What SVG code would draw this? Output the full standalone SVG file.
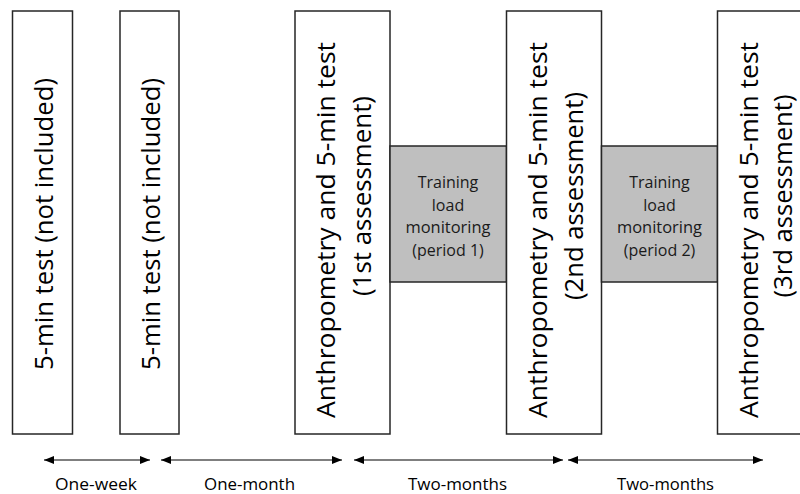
<svg xmlns="http://www.w3.org/2000/svg" width="800" height="494" viewBox="0 0 800 494">
<defs>
<style>
.box{fill:#ffffff;stroke:#262626;stroke-width:1.5}
.grey{fill:#bfbfbf;stroke:#262626;stroke-width:1.5}
.vt{font-family:"Open Sans","Noto Sans","Liberation Sans",sans-serif;font-size:26px;fill:#000;text-anchor:middle}
.gt{font-family:"Open Sans","Noto Sans","Liberation Sans",sans-serif;font-size:16px;fill:#1a1a1a;text-anchor:middle}
.lt{font-family:"Open Sans","Noto Sans","Liberation Sans",sans-serif;font-size:17px;fill:#000;text-anchor:middle}
.arr{stroke:#000;stroke-width:1.2;fill:none;marker-start:url(#ah);marker-end:url(#ah)}
</style>
<marker id="ah" viewBox="0 0 10 8" refX="10" refY="4" markerWidth="10" markerHeight="8" markerUnits="userSpaceOnUse" orient="auto-start-reverse">
<path d="M0,0 L10,4 L0,8 Z" fill="#000"/>
</marker>
</defs>
<rect width="800" height="494" fill="#ffffff"/>

<g id="box1">
<rect class="box" x="12.5" y="11" width="60" height="423"/>
<text class="vt" transform="translate(53,224) rotate(-90)" textLength="292" lengthAdjust="spacingAndGlyphs">5-min test (not included)</text>
</g>
<g id="box2">
<rect class="box" x="120" y="11" width="59" height="423"/>
<text class="vt" transform="translate(160,224) rotate(-90)" textLength="292" lengthAdjust="spacingAndGlyphs">5-min test (not included)</text>
</g>
<g id="box3">
<rect class="box" x="295" y="11" width="95" height="423"/>
<text class="vt" transform="translate(335,230) rotate(-90)" textLength="376" lengthAdjust="spacingAndGlyphs">Anthropometry and 5-min test</text>
<text class="vt" transform="translate(371,196) rotate(-90)" textLength="200" lengthAdjust="spacingAndGlyphs">(1st assessment)</text>
</g>
<g id="train1">
<rect class="grey" x="390" y="146" width="116.5" height="136"/>
<text class="gt" x="448" y="188">Training</text>
<text class="gt" x="448" y="210.5">load</text>
<text class="gt" x="448" y="233" textLength="85" lengthAdjust="spacingAndGlyphs">monitoring</text>
<text class="gt" x="448" y="255.5">(period 1)</text>
</g>
<g id="box4">
<rect class="box" x="506.5" y="11" width="95" height="423"/>
<text class="vt" transform="translate(547,230) rotate(-90)" textLength="376" lengthAdjust="spacingAndGlyphs">Anthropometry and 5-min test</text>
<text class="vt" transform="translate(583,196) rotate(-90)" textLength="208" lengthAdjust="spacingAndGlyphs">(2nd assessment)</text>
</g>
<g id="train2">
<rect class="grey" x="601.5" y="146" width="116" height="136"/>
<text class="gt" x="659.5" y="188">Training</text>
<text class="gt" x="659.5" y="210.5">load</text>
<text class="gt" x="659.5" y="233" textLength="85" lengthAdjust="spacingAndGlyphs">monitoring</text>
<text class="gt" x="659.5" y="255.5">(period 2)</text>
</g>
<g id="box5">
<rect class="box" x="717.5" y="11" width="95" height="423"/>
<text class="vt" transform="translate(758,230) rotate(-90)" textLength="376" lengthAdjust="spacingAndGlyphs">Anthropometry and 5-min test</text>
<text class="vt" transform="translate(792,196) rotate(-90)" textLength="203" lengthAdjust="spacingAndGlyphs">(3rd assessment)</text>
</g>

<g id="connectors">
<line class="arr" x1="44" y1="460" x2="150" y2="460"/>
<line class="arr" x1="161" y1="460" x2="342" y2="460"/>
<line class="arr" x1="354" y1="460" x2="563" y2="460"/>
<line class="arr" x1="568" y1="460" x2="763" y2="460"/>
</g>

<g id="labels">
<text class="lt" x="96" y="490" textLength="82" lengthAdjust="spacingAndGlyphs">One-week</text>
<text class="lt" x="249.5" y="490" textLength="91" lengthAdjust="spacingAndGlyphs">One-month</text>
<text class="lt" x="457.5" y="490" textLength="99" lengthAdjust="spacingAndGlyphs">Two-months</text>
<text class="lt" x="665.5" y="490" textLength="97" lengthAdjust="spacingAndGlyphs">Two-months</text>
</g>
</svg>
